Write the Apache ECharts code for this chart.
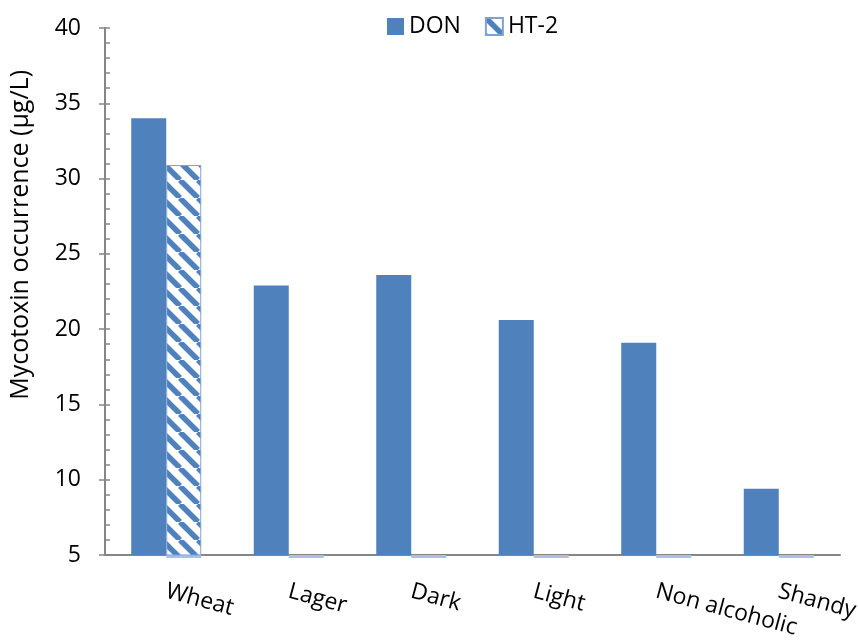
<!DOCTYPE html>
<html>
<head>
<meta charset="utf-8">
<script src="https://cdn.jsdelivr.net/npm/echarts@6/dist/echarts.min.js"></script>
<style>
  html, body { margin: 0; padding: 0; background: #fff; }
  #chart { width: 858px; height: 642px; }
</style>
</head>
<body>
<div id="chart"></div>
<script>
// Beer styles and mean mycotoxin levels (µg/L)
const categories = ['Wheat', 'Lager', 'Dark', 'Light', 'Non alcoholic', 'Shandy'];
const donValues = [34.0, 22.9, 23.6, 20.6, 19.1, 9.4];
const ht2Values = [30.9, 0, 0, 0, 0, 0];
const yTicks = [5, 10, 15, 20, 25, 30, 35, 40];

const yMin = yTicks[0];
const yMax = yTicks[yTicks.length - 1];
const yStep = yTicks[1] - yTicks[0];

const FONT = '"Open Sans"';
const FS = 23;
const BLUE = '#4f81bd';
const AXIS_GREY = '#868686';
const BAR_W = 35;

// diagonal stripe tile used for the HT-2 bars
function stripeTile() {
  const s = 18;
  const c = document.createElement('canvas');
  c.width = s; c.height = s;
  const g = c.getContext('2d');
  g.fillStyle = '#ffffff';
  g.fillRect(0, 0, s, s);
  g.strokeStyle = BLUE;
  g.lineWidth = 5.5;
  for (const o of [-s, 0, s]) {
    g.beginPath();
    g.moveTo(o, 0);
    g.lineTo(o + s, s);
    g.stroke();
  }
  return c;
}
const hatch = { image: stripeTile(), repeat: 'repeat' };

const chart = echarts.init(document.getElementById('chart'), null, { renderer: 'canvas' });

chart.setOption({
  animation: false,
  backgroundColor: '#ffffff',
  textStyle: { fontFamily: FONT },
  grid: { left: 105, right: 18, top: 28, bottom: 87, outerBoundsMode: 'none' },
  legend: {
    data: ['DON', 'HT-2'],
    left: 382,
    top: 10,
    icon: 'rect',
    itemWidth: 17,
    itemHeight: 17,
    itemGap: 24,
    textStyle: { fontFamily: FONT, fontSize: FS, color: '#000' }
  },
  graphic: [{
    type: 'text',
    left: 8,
    top: 70,
    rotation: Math.PI / 2,
    style: {
      text: 'Mycotoxin occurrence (µg/L)',
      font: '25px ' + FONT,
      fill: '#000'
    }
  }],
  xAxis: {
    type: 'category',
    data: categories,
    axisLine: { lineStyle: { color: AXIS_GREY, width: 2 } },
    axisTick: { show: false },
    axisLabel: {
      rotate: -15,
      margin: 36,
      fontFamily: FONT,
      fontSize: FS,
      color: '#000',
      interval: 0
    }
  },
  yAxis: [{
    type: 'value',
    min: yMin,
    max: yMax,
    interval: yStep,
    axisLine: { show: true, lineStyle: { color: AXIS_GREY, width: 2 } },
    axisTick: { show: true, inside: true, length: 5, lineStyle: { color: AXIS_GREY, width: 1.5 } },
    minorTick: { show: true, splitNumber: 5, length: 5, lineStyle: { color: AXIS_GREY, width: 1.5 } },
    splitLine: { show: false },
    axisLabel: { margin: 24, fontFamily: FONT, fontSize: FS, color: '#000' }
  }, {
    // outer half of the major tick marks
    type: 'value',
    position: 'left',
    min: yMin,
    max: yMax,
    interval: yStep,
    axisLine: { show: false },
    axisTick: { show: true, inside: false, length: 6, lineStyle: { color: AXIS_GREY, width: 1.5 } },
    splitLine: { show: false },
    axisLabel: { show: false }
  }],
  series: [{
    name: 'DON',
    type: 'bar',
    data: donValues,
    barWidth: BAR_W,
    barGap: '0%',
    itemStyle: { color: BLUE }
  }, {
    name: 'HT-2',
    type: 'bar',
    data: ht2Values,
    barWidth: BAR_W,
    barGap: '0%',
    itemStyle: { color: hatch, borderColor: '#7fa2d2', borderWidth: 1 }
  }, {
    // HT-2 bars rise from zero, so a sliver shows just under the raised baseline
    name: 'HT-2 base',
    type: 'custom',
    silent: true,
    clip: false,
    data: ht2Values.map((v, i) => [i, v]),
    renderItem(params, api) {
      const i = api.value(0);
      const base = api.coord([i, yMin]);
      const zero = api.coord([i, 0]);
      const h = Math.min(zero[1] - base[1], 3);
      return {
        type: 'rect',
        shape: { x: base[0], y: base[1], width: BAR_W, height: h },
        style: { fill: '#a9c1e4' },
        z2: -1
      };
    }
  }]
});
</script>
</body>
</html>
